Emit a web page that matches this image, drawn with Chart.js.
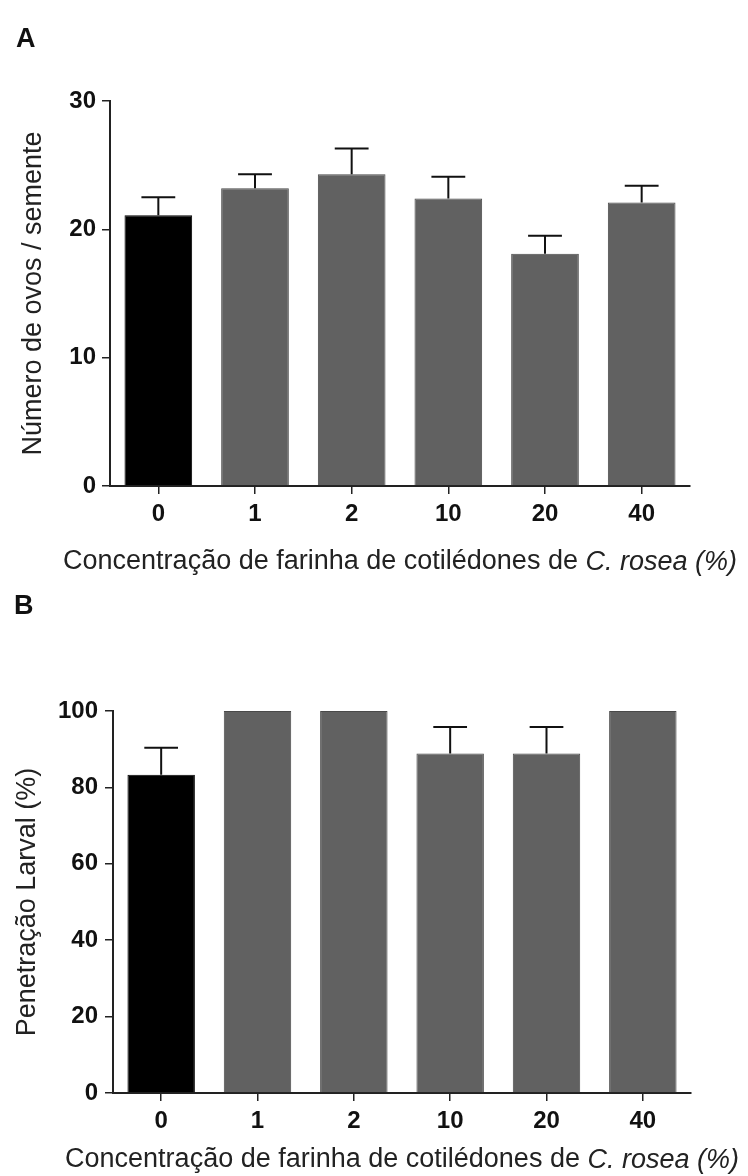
<!DOCTYPE html>
<html>
<head>
<meta charset="utf-8">
<script src="https://cdn.jsdelivr.net/npm/chart.js@4.4.0/dist/chart.umd.min.js"></script>
<style>
  html, body { margin: 0; padding: 0; background: #ffffff; }
  #wrap { position: relative; width: 748px; height: 1176px; }
  canvas { position: absolute; left: 0; }
</style>
</head>
<body>
<div id="wrap">
  <canvas id="chartA" width="748" height="588" style="top:0px"></canvas>
  <canvas id="chartB" width="748" height="588" style="top:588px"></canvas>
</div>
<script>
// Concentration of C. rosea cotyledon flour (%)
const categories = ['0', '1', '2', '10', '20', '40'];

// Panel A: eggs per seed (mean, SEM)
const eggsMean = [21.1, 23.2, 24.3, 22.4, 18.1, 22.1];
const eggsSem  = [1.4, 1.1, 2.0, 1.7, 1.4, 1.3];
const eggsTicks = [0, 10, 20, 30];

// Panel B: larval penetration (%) (mean, SEM)
const penetrationMean = [83.3, 100, 100, 88.9, 88.9, 100];
const penetrationSem  = [7.1, 0, 0, 6.9, 6.9, 0];
const penetrationTicks = [0, 20, 40, 60, 80, 100];

const FONT = '"Liberation Sans", Arial, Helvetica, sans-serif';
const barFill   = ['#000000', '#616161', '#616161', '#616161', '#616161', '#616161'];
const barBorder = ['#000000', '#494949', '#494949', '#494949', '#494949', '#494949'];

// Upper-only error bars with a cap, drawn from each bar's mean + SEM
const errorBars = {
  id: 'errorBars',
  afterDatasetsDraw(chart, args, opts) {
    const ctx = chart.ctx;
    const y = chart.scales.y;
    const meta = chart.getDatasetMeta(0);
    const values = chart.data.datasets[0].data;
    ctx.save();
    ctx.strokeStyle = '#111111';
    ctx.lineWidth = 2;
    meta.data.forEach((bar, i) => {
      const e = opts.sem[i];
      if (!e) return;
      const yBase = y.getPixelForValue(values[i]);
      const yTop = y.getPixelForValue(values[i] + e);
      const half = bar.width * 0.25;
      ctx.beginPath();
      ctx.moveTo(bar.x, yBase);
      ctx.lineTo(bar.x, yTop);
      ctx.moveTo(bar.x - half, yTop);
      ctx.lineTo(bar.x + half, yTop);
      ctx.stroke();
    });
    ctx.restore();
  }
};

// X-axis caption with an italic species name, centred under the plot area
const axisCaption = {
  id: 'axisCaption',
  afterDraw(chart, args, opts) {
    const { ctx, chartArea } = chart;
    ctx.save();
    ctx.fillStyle = '#222222';
    ctx.textBaseline = 'middle';
    ctx.textAlign = 'left';
    const fonts = opts.parts.map(p => (p.italic ? 'italic ' : '') + opts.size + 'px ' + FONT);
    let total = 0;
    const widths = opts.parts.map((p, i) => {
      ctx.font = fonts[i];
      const w = ctx.measureText(p.text).width;
      total += w;
      return w;
    });
    let x = (chartArea.left + chartArea.right) / 2 - total / 2;
    const yPos = chartArea.bottom + opts.offset;
    opts.parts.forEach((p, i) => {
      ctx.font = fonts[i];
      ctx.fillText(p.text, x, yPos);
      x += widths[i];
    });
    ctx.restore();
  }
};

// Panel letter in the top-left corner
const panelLetter = {
  id: 'panelLetter',
  afterDraw(chart, args, opts) {
    const ctx = chart.ctx;
    ctx.save();
    ctx.fillStyle = '#111111';
    ctx.font = 'bold 27px ' + FONT;
    ctx.textAlign = 'left';
    ctx.textBaseline = 'alphabetic';
    ctx.fillText(opts.text, opts.x, opts.y);
    ctx.restore();
  }
};

const captionParts = [
  { text: 'Concentração de farinha de cotilédones de ', italic: false },
  { text: 'C. rosea (%)', italic: true }
];

function makeChart(id, cfg) {
  return new Chart(document.getElementById(id), {
    type: 'bar',
    data: {
      labels: categories,
      datasets: [{
        data: cfg.values,
        backgroundColor: barFill,
        borderColor: barBorder,
        borderWidth: 1,
        barPercentage: 0.7,
        categoryPercentage: 1.0
      }]
    },
    options: {
      responsive: false,
      animation: false,
      layout: { padding: { top: cfg.top, right: cfg.right, left: 0, bottom: 0 } },
      plugins: {
        legend: { display: false },
        tooltip: { enabled: false },
        errorBars: { sem: cfg.sem },
        axisCaption: { parts: captionParts, size: 27, offset: cfg.captionOffset },
        panelLetter: { text: cfg.letter, x: cfg.letterX, y: cfg.letterY }
      },
      scales: {
        x: {
          offset: true,
          grid: { display: true, drawOnChartArea: false, drawTicks: true, offset: false,
                  tickLength: 8, color: '#222222', lineWidth: 1.5 },
          border: { display: true, color: '#222222', width: 2 },
          ticks: { color: '#111111', padding: 6, maxRotation: 0,
                   font: { family: FONT, size: 24, weight: 'bold' } },
          afterFit(s) { s.height = cfg.xHeight; }
        },
        y: {
          min: 0,
          max: cfg.ticks[cfg.ticks.length - 1],
          grid: { display: true, drawOnChartArea: false, drawTicks: true,
                  tickLength: 8, color: '#222222', lineWidth: 1.5 },
          border: { display: true, color: '#222222', width: 2 },
          ticks: { color: '#111111', padding: cfg.tickPad,
                   font: { family: FONT, size: 24, weight: 'bold' } },
          afterBuildTicks(s) { s.ticks = cfg.ticks.map(v => ({ value: v })); },
          title: { display: true, text: cfg.yTitle, color: '#222222',
                   font: { family: FONT, size: 27 }, padding: { top: cfg.titlePad, bottom: 0 } },
          afterFit(s) { s.width = cfg.yWidth; }
        }
      }
    },
    plugins: [errorBars, axisCaption, panelLetter]
  });
}

makeChart('chartA', {
  values: eggsMean, sem: eggsSem, ticks: eggsTicks,
  yTitle: 'Número de ovos / semente',
  top: 101, right: 58, yWidth: 110, xHeight: 102,
  tickPad: 6, titlePad: 17, captionOffset: 76,
  letter: 'A', letterX: 16, letterY: 47
});

makeChart('chartB', {
  values: penetrationMean, sem: penetrationSem, ticks: penetrationTicks,
  yTitle: 'Penetração Larval (%)',
  top: 123, right: 57, yWidth: 113, xHeight: 83,
  tickPad: 7, titlePad: 11, captionOffset: 67,
  letter: 'B', letterX: 14, letterY: 26
});
</script>
</body>
</html>
